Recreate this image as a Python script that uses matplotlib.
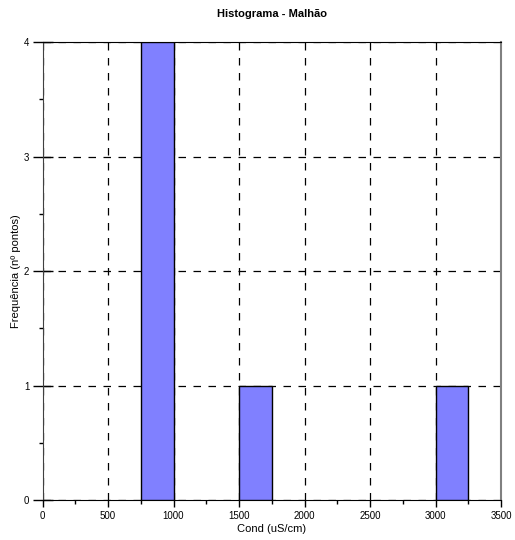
import matplotlib
matplotlib.use("Agg")
import matplotlib.pyplot as plt
from matplotlib.ticker import MultipleLocator

plt.rcParams['font.family'] = ['Liberation Sans', 'DejaVu Sans']

# histogram bins (left edges) and counts
bin_left = [750, 1500, 3000]
bin_width = 250
counts = [4, 1, 1]

x_ticks = [0, 500, 1000, 1500, 2000, 2500, 3000, 3500]
y_ticks = [0, 1, 2, 3, 4]

fig = plt.figure(figsize=(5.15, 5.4), dpi=100)
ax = fig.add_axes([42.5 / 515, 40 / 540, 458.5 / 515, 458 / 540])

ax.bar(bin_left, counts, width=bin_width, align='edge',
       color='#8080ff', edgecolor='black', linewidth=1, zorder=3)

ax.set_xlim(0, 3500)
ax.set_ylim(0, 4)
ax.set_xticks(x_ticks)
ax.set_yticks(y_ticks)
ax.xaxis.set_minor_locator(MultipleLocator(250))
ax.yaxis.set_minor_locator(MultipleLocator(0.5))
ax.grid(True, which='major', color='black', linestyle=(0, (6, 6)), linewidth=0.9, zorder=1)

ax.tick_params(axis='x', which='major', direction='out', length=5, labelsize=7, width=1, pad=3)
ax.tick_params(axis='x', which='minor', direction='out', length=3, width=1)
ax.tick_params(axis='y', which='major', direction='inout', length=15, labelsize=7, width=1, pad=2)
ax.tick_params(axis='y', which='minor', direction='out', length=3, width=1)

for side in ['left', 'bottom', 'top']:
    ax.spines[side].set_color('black')
ax.spines['left'].set_color('#404040')
ax.spines['right'].set_color('#808080')
ax.spines['right'].set_linewidth(1.5)

ax.set_title('Histograma - Malhão', fontsize=8, fontweight='bold', pad=18)
ax.set_xlabel('Cond (uS/cm)', fontsize=8, labelpad=2)
ax.set_ylabel('Frequência (nº pontos)', fontsize=8, labelpad=2)

plt.savefig('out.png', dpi=100)
plt.close()
